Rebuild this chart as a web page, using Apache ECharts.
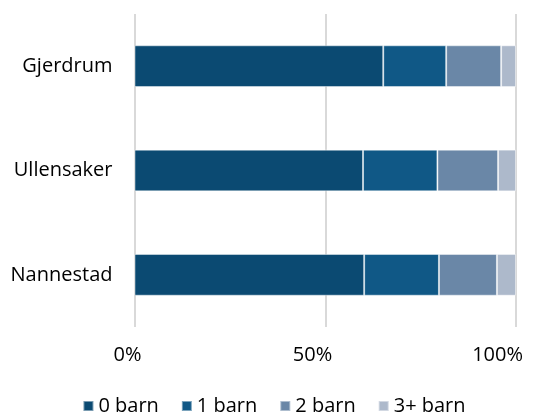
<!DOCTYPE html>
<html>
<head>
<meta charset="utf-8">
<script src="https://cdn.jsdelivr.net/npm/echarts@6/dist/echarts.min.js"></script>
<style>
  html, body { margin: 0; padding: 0; background: #fff; }
  #chart { width: 548px; height: 414px; }
</style>
</head>
<body>
<div id="chart"></div>
<script>
// kommuner, nederst til øverst
const kommuner = ['Nannestad', 'Ullensaker', 'Gjerdrum']
const seriesNames = ['0 barn', '1 barn', '2 barn', '3+ barn']
// andel husholdninger (%) per kommune, samme rekkefølge som kommuner
const barn0 = [60.2, 59.9, 65.2]
const barn1 = [19.6, 19.5, 16.5]
const barn2 = [15.2, 15.9, 14.4]
const barn3 = [5.0, 4.7, 3.9]
const tickLabels = ['0%', '50%', '100%']

const colors = ['#0B4A72', '#105886', '#6A87A7', '#ADB9CB']
const values = [barn0, barn1, barn2, barn3]
const font = '"Open Sans", Lato, sans-serif'

const chart = echarts.init(document.getElementById('chart'))
chart.setOption({
  animation: false,
  textStyle: { fontFamily: font },
  grid: { left: 134.5, right: 32, top: 14, bottom: 87 },
  legend: {
    top: 391,
    left: 'center',
    itemWidth: 10,
    itemHeight: 10,
    itemGap: 22,
    icon: 'rect',
    textStyle: { fontSize: 20, color: '#000', fontFamily: font },
    data: seriesNames
  },
  xAxis: {
    type: 'value',
    min: 0,
    max: 100,
    interval: 50,
    axisLine: { show: false },
    axisTick: { show: false },
    splitLine: { lineStyle: { color: '#d9d9d9', width: 2 } },
    axisLabel: {
      fontSize: 20,
      color: '#000',
      margin: 18,
      align: 'right',
      padding: [0, -7, 0, 0],
      formatter: v => tickLabels[v / 50]
    }
  },
  yAxis: {
    type: 'category',
    data: kommuner,
    axisLine: { show: false },
    axisTick: { show: false },
    axisLabel: { fontSize: 20, color: '#000', margin: 22 }
  },
  series: seriesNames.map((name, i) => ({
    name,
    type: 'bar',
    stack: 'total',
    barWidth: '40%',
    data: values[i],
    itemStyle: {
      color: colors[i],
      borderColor: 'rgba(255,255,255,0.45)',
      borderWidth: 1
    }
  }))
})
</script>
</body>
</html>
